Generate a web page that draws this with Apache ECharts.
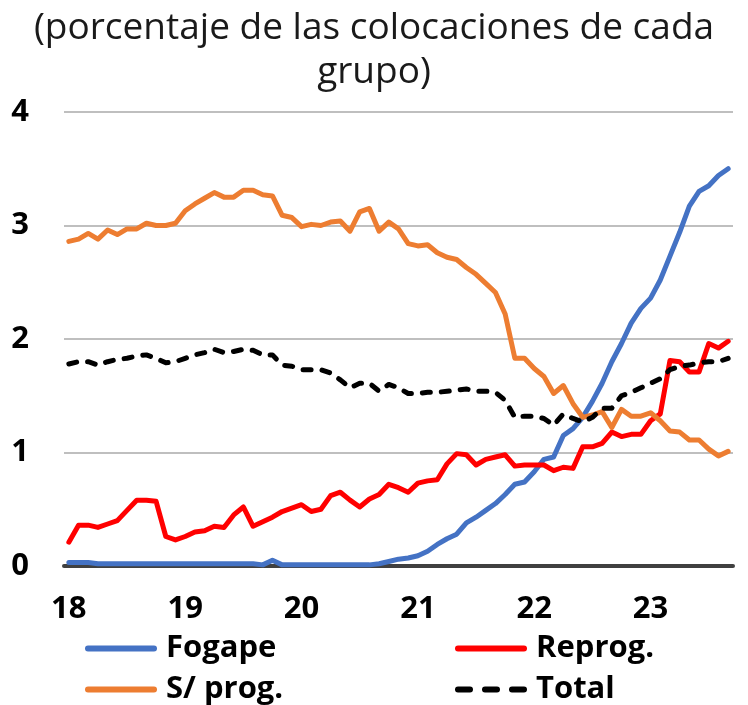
<!DOCTYPE html>
<html>
<head>
<meta charset="utf-8">
<script src="https://cdn.jsdelivr.net/npm/echarts@6/dist/echarts.min.js"></script>
<style>
  html, body { margin: 0; padding: 0; background: #fff; }
  #main { width: 748px; height: 705px; }
</style>
</head>
<body>
<div id="main"></div>
<script>
// años del eje (ene-18 a sep-23, mensual)
var years = ['18', '19', '20', '21', '22', '23'];
var lastMonth = 9;

// % de las colocaciones de cada grupo
var fogape = [0.03, 0.03, 0.03, 0.02, 0.02, 0.02, 0.02, 0.02, 0.02, 0.02,
  0.02, 0.02, 0.02, 0.02, 0.02, 0.02, 0.02, 0.02, 0.02, 0.02,
  0.01, 0.05, 0.01, 0.01, 0.01, 0.01, 0.01, 0.01, 0.01, 0.01,
  0.01, 0.01, 0.02, 0.04, 0.06, 0.07, 0.09, 0.13, 0.19, 0.24,
  0.28, 0.38, 0.43, 0.49, 0.55, 0.63, 0.72, 0.74, 0.83, 0.94,
  0.96, 1.15, 1.21, 1.31, 1.45, 1.61, 1.80, 1.96, 2.14, 2.27,
  2.36, 2.52, 2.73, 2.94, 3.17, 3.30, 3.35, 3.44, 3.50];
var reprog = [0.21, 0.36, 0.36, 0.34, 0.37, 0.40, 0.49, 0.58, 0.58, 0.57,
  0.26, 0.23, 0.26, 0.30, 0.31, 0.35, 0.34, 0.45, 0.52, 0.35,
  0.39, 0.43, 0.48, 0.51, 0.54, 0.48, 0.50, 0.62, 0.65, 0.58,
  0.52, 0.59, 0.63, 0.72, 0.69, 0.65, 0.73, 0.75, 0.76, 0.90,
  0.99, 0.98, 0.89, 0.94, 0.96, 0.98, 0.88, 0.89, 0.89, 0.89,
  0.84, 0.87, 0.86, 1.05, 1.05, 1.08, 1.18, 1.14, 1.16, 1.16,
  1.28, 1.34, 1.81, 1.80, 1.71, 1.71, 1.96, 1.92, 1.98];
var sinProg = [2.86, 2.88, 2.93, 2.88, 2.96, 2.92, 2.97, 2.97, 3.02, 3.00,
  3.00, 3.02, 3.13, 3.19, 3.24, 3.29, 3.25, 3.25, 3.31, 3.31,
  3.27, 3.26, 3.09, 3.07, 2.99, 3.01, 3.00, 3.03, 3.04, 2.95,
  3.12, 3.15, 2.95, 3.03, 2.97, 2.84, 2.82, 2.83, 2.76, 2.72,
  2.70, 2.63, 2.57, 2.49, 2.41, 2.22, 1.83, 1.83, 1.74, 1.67,
  1.52, 1.59, 1.43, 1.31, 1.33, 1.36, 1.22, 1.38, 1.32, 1.32,
  1.35, 1.28, 1.19, 1.18, 1.11, 1.11, 1.03, 0.97, 1.01];
var total = [1.78, 1.80, 1.80, 1.77, 1.80, 1.82, 1.83, 1.85, 1.86, 1.83,
  1.79, 1.80, 1.83, 1.86, 1.88, 1.91, 1.88, 1.89, 1.91, 1.90,
  1.86, 1.86, 1.77, 1.76, 1.73, 1.73, 1.73, 1.70, 1.64, 1.57,
  1.61, 1.61, 1.54, 1.60, 1.57, 1.52, 1.52, 1.53, 1.53, 1.54,
  1.55, 1.56, 1.54, 1.54, 1.53, 1.46, 1.31, 1.32, 1.32, 1.30,
  1.24, 1.34, 1.30, 1.27, 1.31, 1.39, 1.39, 1.50, 1.53, 1.57,
  1.61, 1.65, 1.73, 1.76, 1.77, 1.79, 1.80, 1.80, 1.83];

var months = [];
years.forEach(function (y, k) {
  var n = (k == years.length - 1) ? lastMonth : 12;
  for (var m = 1; m <= n; m++) months.push(y + '-' + m);
});

var font = '"Open Sans", "Liberation Sans", sans-serif';
var lbl = { fontFamily: font, fontWeight: 'bold', fontSize: 31, color: '#000' };
var dashIcon = 'path://M3,0h12a3,3 0 0 1 0,6h-12a3,3 0 0 1 0,-6z M30,0h12a3,3 0 0 1 0,6h-12a3,3 0 0 1 0,-6z M57,0h12a3,3 0 0 1 0,6h-12a3,3 0 0 1 0,-6z';
var barIcon = 'path://M3,0h66a3,3 0 0 1 0,6h-66a3,3 0 0 1 0,-6z';

function leg(name, icon, left, top) {
  return {
    data: [{ name: name, icon: icon }],
    left: left, top: top,
    itemWidth: 72, itemHeight: 6,
    textStyle: Object.assign({ padding: [0, 0, 0, 4] }, lbl)
  };
}

var myChart = echarts.init(document.getElementById('main'));
var option = {
  animation: false,
  title: {
    text: '(porcentaje de las colocaciones de cada\ngrupo)',
    left: 'center',
    top: 1,
    textStyle: { fontFamily: font, fontWeight: 'normal', fontSize: 37, lineHeight: 44, color: '#1a1a1a' }
  },
  legend: [
    leg('Fogape', barIcon, 80, 628),
    leg('Reprog.', barIcon, 450, 628),
    leg('S/ prog.', barIcon, 80, 669),
    leg('Total', dashIcon, 450, 669)
  ],
  grid: { left: 64, right: 15, top: 112, bottom: 139 },
  xAxis: {
    type: 'category',
    data: months,
    boundaryGap: true,
    axisLine: { lineStyle: { color: '#404040', width: 4 } },
    axisTick: { interval: 11, length: 10, lineStyle: { color: '#404040', width: 4 } },
    axisLabel: Object.assign({
      interval: 11, margin: 28,
      formatter: function (v) { return v.split('-')[0]; }
    }, lbl)
  },
  yAxis: {
    type: 'value',
    min: 0, max: 4, interval: 1,
    axisLine: { show: false },
    axisTick: { show: false },
    axisLabel: Object.assign({ margin: 35 }, lbl),
    splitLine: { lineStyle: { color: '#bfbfbf', width: 2 } }
  },
  series: [
    { name: 'Fogape', type: 'line', data: fogape, symbol: 'none', color: '#4472C4',
      lineStyle: { width: 5, color: '#4472C4', cap: 'round', join: 'round' } },
    { name: 'Reprog.', type: 'line', data: reprog, symbol: 'none', color: '#FF0000',
      lineStyle: { width: 5, color: '#FF0000', cap: 'round', join: 'round' } },
    { name: 'S/ prog.', type: 'line', data: sinProg, symbol: 'none', color: '#ED7D31',
      lineStyle: { width: 5, color: '#ED7D31', cap: 'round', join: 'round' } },
    { name: 'Total', type: 'line', data: total, symbol: 'none', color: '#000',
      lineStyle: { width: 5, color: '#000', type: [8, 11], cap: 'round', join: 'round' } }
  ]
};
myChart.setOption(option);
</script>
</body>
</html>
